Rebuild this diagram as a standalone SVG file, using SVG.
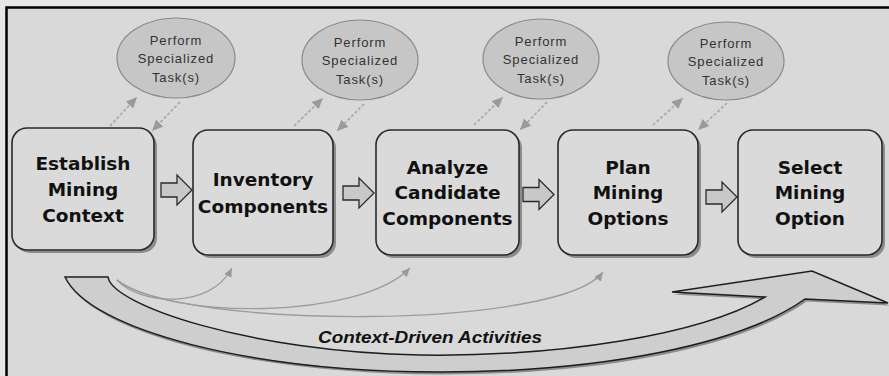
<svg xmlns="http://www.w3.org/2000/svg" width="889" height="376" viewBox="0 0 889 376">
<style>
.box{fill:#dadada;stroke:#2a2a2a;stroke-width:1.6}
.shadow{fill:#8c8c8c}
.btxt{font-family:"DejaVu Sans",sans-serif;font-weight:bold;font-size:18.5px;fill:#111;text-anchor:middle}
.ell{fill:#c6c6c6;stroke:#8a8a8a;stroke-width:1.2}
.etxt{font-family:"Liberation Sans",Arial,sans-serif;font-size:13px;letter-spacing:0.9px;fill:#333;text-anchor:middle}
.dot{fill:none;stroke:#a6a6a6;stroke-width:1.6;stroke-dasharray:3,2;marker-end:url(#dh)}
.thin{fill:none;stroke:#9c9c9c;stroke-width:1.3;marker-end:url(#th)}
.blk{fill:#c8c8c8;stroke:#2a2a2a;stroke-width:1.3}
</style>
<defs>
<marker id="dh" markerUnits="userSpaceOnUse" markerWidth="12" markerHeight="10" refX="11" refY="5" orient="auto"><path d="M0,0 L11,5 L0,10 z" fill="#9a9a9a"/></marker>
<marker id="th" markerUnits="userSpaceOnUse" markerWidth="10" markerHeight="8" refX="9" refY="4" orient="auto"><path d="M0,0 L9,4 L0,8 z" fill="#9a9a9a"/></marker>
<path id="blkarrow" d="M0,-7 L16,-7 L16,-15 L31,0 L16,15 L16,7 L0,7 z"/>
</defs>
<rect x="0" y="0" width="889" height="376" fill="#e6e6e6"/>
<rect x="7" y="8" width="882" height="368" fill="#d9d9d9"/>
<path d="M6.5,376 L6.5,7.5 L889,7.5" fill="none" stroke="#000" stroke-width="2.5"/>

<g id="connectors">
<path class="dot" d="M110,126 L137,97"/>
<path class="dot" d="M180,102 L152,131"/>
<path class="dot" d="M294,126 L323,98"/>
<path class="dot" d="M364,104 L337,131"/>
<path class="dot" d="M474,125 L503,97"/>
<path class="dot" d="M547,102 L520,130"/>
<path class="dot" d="M653,125 L683,98"/>
<path class="dot" d="M727,103 L698,130"/>
<use href="#blkarrow" class="blk" transform="translate(161,190)"/>
<use href="#blkarrow" class="blk" transform="translate(343,193)"/>
<use href="#blkarrow" class="blk" transform="translate(523,194.5)"/>
<use href="#blkarrow" class="blk" transform="translate(706,197)"/>
<path class="thin" d="M117,280 C140,305 210,310 232,268"/>
<path class="thin" d="M117,280 C170,320 360,320 410,268"/>
<path class="thin" d="M117,280 C180,330 560,330 603,272"/>
</g>

<g id="cycle-arrow">
<path d="M65,277 L108,277 C112,305 250,352 420,355 C560,357 700,335 765,297 L672,292 L812,271 L888,303 L805,299 C740,345 600,372 440,372 C250,372 90,330 65,277 z" fill="#8c8c8c" transform="translate(1.5,2.5)"/>
<path d="M65,277 L108,277 C112,305 250,352 420,355 C560,357 700,335 765,297 L672,292 L812,271 L888,303 L805,299 C740,345 600,372 440,372 C250,372 90,330 65,277 z" fill="#cecece" stroke="#1e1e1e" stroke-width="1.5" stroke-linejoin="miter"/>
<text x="430" y="343" font-family="Liberation Sans,Arial,sans-serif" font-weight="bold" font-style="italic" font-size="17" fill="#111" text-anchor="middle" textLength="224" lengthAdjust="spacingAndGlyphs">Context-Driven Activities</text>
</g>

<g id="task1">
<ellipse class="ell" cx="176" cy="58" rx="59" ry="40"/>
<text class="etxt" x="176" y="44.5">Perform</text>
<text class="etxt" x="176" y="63">Specialized</text>
<text class="etxt" x="176" y="81.5">Task(s)</text>
</g>
<g id="task2">
<ellipse class="ell" cx="360" cy="60" rx="58" ry="40"/>
<text class="etxt" x="360" y="46.5">Perform</text>
<text class="etxt" x="360" y="65">Specialized</text>
<text class="etxt" x="360" y="83.5">Task(s)</text>
</g>
<g id="task3">
<ellipse class="ell" cx="541" cy="59" rx="58" ry="40"/>
<text class="etxt" x="541" y="45.5">Perform</text>
<text class="etxt" x="541" y="64">Specialized</text>
<text class="etxt" x="541" y="82.5">Task(s)</text>
</g>
<g id="task4">
<ellipse class="ell" cx="726" cy="61" rx="58" ry="39"/>
<text class="etxt" x="726" y="47.5">Perform</text>
<text class="etxt" x="726" y="66">Specialized</text>
<text class="etxt" x="726" y="84.5">Task(s)</text>
</g>

<g id="establish">
<rect class="shadow" x="15" y="131" width="142" height="122" rx="15"/>
<rect class="box" x="12" y="128" width="142" height="122" rx="15"/>
<text class="btxt" x="83" y="170">Establish</text>
<text class="btxt" x="83" y="196">Mining</text>
<text class="btxt" x="83" y="222">Context</text>
</g>
<g id="inventory">
<rect class="shadow" x="196" y="133" width="140" height="125" rx="15"/>
<rect class="box" x="193" y="130" width="140" height="125" rx="15"/>
<text class="btxt" x="263" y="186">Inventory</text>
<text class="btxt" x="263" y="213">Components</text>
</g>
<g id="analyze">
<rect class="shadow" x="379" y="133" width="143" height="125" rx="15"/>
<rect class="box" x="376" y="130" width="143" height="125" rx="15"/>
<text class="btxt" x="447.5" y="173.5">Analyze</text>
<text class="btxt" x="447.5" y="199">Candidate</text>
<text class="btxt" x="447.5" y="225">Components</text>
</g>
<g id="plan">
<rect class="shadow" x="561" y="133" width="140" height="125" rx="15"/>
<rect class="box" x="558" y="130" width="140" height="125" rx="15"/>
<text class="btxt" x="628" y="173.5">Plan</text>
<text class="btxt" x="628" y="199">Mining</text>
<text class="btxt" x="628" y="225">Options</text>
</g>
<g id="select">
<rect class="shadow" x="741" y="133" width="144" height="125" rx="15"/>
<rect class="box" x="738" y="130" width="144" height="125" rx="15"/>
<text class="btxt" x="810" y="173.5">Select</text>
<text class="btxt" x="810" y="199">Mining</text>
<text class="btxt" x="810" y="225">Option</text>
</g>
</svg>
